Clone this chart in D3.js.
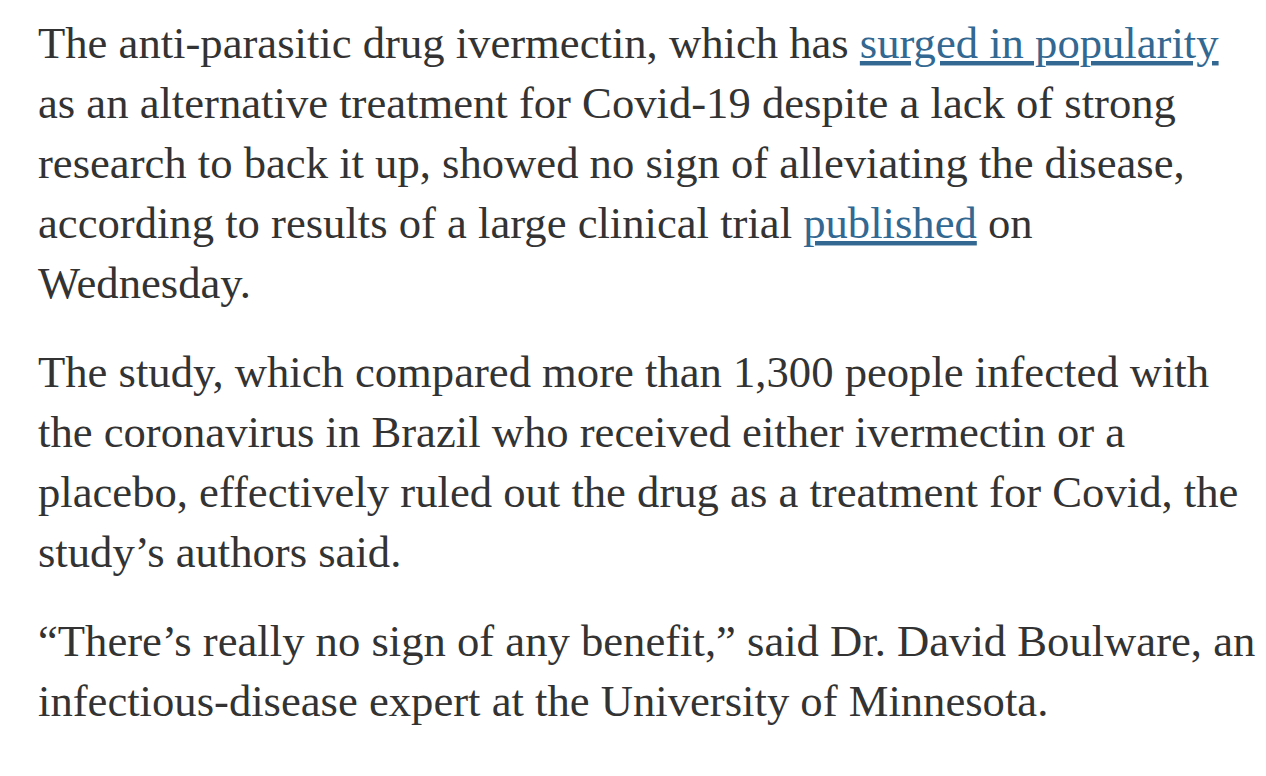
<!DOCTYPE html>
<html><head><meta charset="utf-8">
<script src="https://cdn.jsdelivr.net/npm/d3@7"></script>
<style>body{margin:0;background:#fff}</style>
</head><body><svg id="c" width="1266" height="776"></svg>
<script>
// each line: array of [text, isLink]
const paragraph1 = [
  [["The anti-parasitic drug ivermectin, which has ", false], ["surged in popularity", true]],
  [["as an alternative treatment for Covid-19 despite a lack of strong", false]],
  [["research to back it up, showed no sign of alleviating the disease,", false]],
  [["according to results of a large clinical trial ", false], ["published", true], [" on", false]],
  [["Wednesday.", false]]
]
const paragraph2 = [
  [["The study, which compared more than 1,300 people infected with", false]],
  [["the coronavirus in Brazil who received either ivermectin or a", false]],
  [["placebo, effectively ruled out the drug as a treatment for Covid, the", false]],
  [["study\u2019s authors said.", false]]
]
const paragraph3 = [
  [["\u201cThere\u2019s really no sign of any benefit,\u201d said Dr. David Boulware, an", false]],
  [["infectious-disease expert at the University of Minnesota.", false]]
]
const paragraphs = [paragraph1, paragraph2, paragraph3]

const svg = d3.select('#c')
const left = 38, lineH = 60, paraGap = 29, firstBase = 58
const font = '"Liberation Serif", "DejaVu Serif", serif'

// fit font size so first line spans the reference width
const probe = svg.append('text').style('font-family', font).style('font-size', '36px')
  .text(paragraph1[0].map(d => d[0]).join(''))
const w = probe.node().getComputedTextLength()
probe.remove()
const fontSize = 36 * 1181 / w

let y = firstBase
paragraphs.forEach(p => {
  p.forEach(line => {
    const t = svg.append('text')
      .attr('x', left).attr('y', y)
      .style('font-family', font)
      .style('font-size', fontSize + 'px')
      .attr('fill', '#333')
    t.selectAll('tspan').data(line).join('tspan')
      .text(d => d[0])
      .attr('fill', d => d[1] ? '#326891' : '#333')
      .attr('text-decoration', d => d[1] ? 'underline' : null)
    y += lineH
  })
  y += paraGap
})
</script></body></html>
